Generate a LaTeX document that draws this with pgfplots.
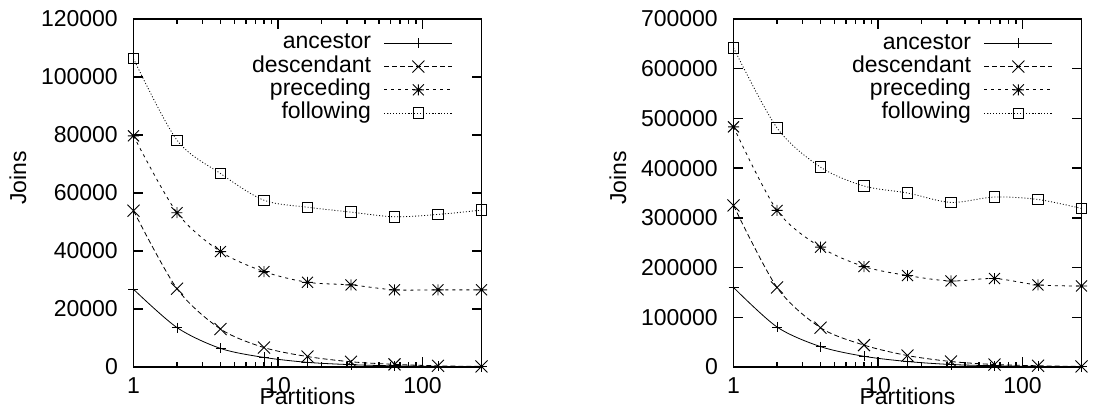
\documentclass[border=0pt]{standalone}
\usepackage{fontspec}
\setmainfont{Liberation Sans}
\usepackage{pgfplots}
\pgfplotsset{compat=1.18}
\pgfdeclareplotmark{gpx}{%
 \pgfpathmoveto{\pgfqpoint{-\pgfplotmarksize}{-\pgfplotmarksize}}%
 \pgfpathlineto{\pgfqpoint{\pgfplotmarksize}{\pgfplotmarksize}}%
 \pgfpathmoveto{\pgfqpoint{-\pgfplotmarksize}{\pgfplotmarksize}}%
 \pgfpathlineto{\pgfqpoint{\pgfplotmarksize}{-\pgfplotmarksize}}%
 \pgfusepathqstroke}
\pgfdeclareplotmark{gpstar}{%
 \pgfpathmoveto{\pgfqpoint{-\pgfplotmarksize}{-\pgfplotmarksize}}%
 \pgfpathlineto{\pgfqpoint{\pgfplotmarksize}{\pgfplotmarksize}}%
 \pgfpathmoveto{\pgfqpoint{-\pgfplotmarksize}{\pgfplotmarksize}}%
 \pgfpathlineto{\pgfqpoint{\pgfplotmarksize}{-\pgfplotmarksize}}%
 \pgfpathmoveto{\pgfqpoint{-\pgfplotmarksize}{0pt}}%
 \pgfpathlineto{\pgfqpoint{\pgfplotmarksize}{0pt}}%
 \pgfpathmoveto{\pgfqpoint{0pt}{-\pgfplotmarksize}}%
 \pgfpathlineto{\pgfqpoint{0pt}{\pgfplotmarksize}}%
 \pgfusepathqstroke}
\pgfplotstableread{
x anc desc prec foll
1 26800 53900 79700 106300
2 13600 27000 53200 78200
4 6400 13100 39800 66700
8 3300 6700 32900 57500
16 1600 3600 29200 55100
32 800 1800 28300 53400
64 400 900 26600 51800
128 200 400 26600 52600
256 100 200 26600 54100
}\lefttab
\pgfplotstableread{
x anc desc prec foll
1 160000 325000 483000 642000
2 80500 160000 315000 481000
4 41000 79000 241000 402000
8 21500 44000 202000 364000
16 11000 23000 184000 350000
32 5000 11000 173000 331000
64 2500 5000 178000 342000
128 1200 2500 165000 337000
256 600 1200 163000 319000
}\righttab
\newcommand\gpfont{\fontsize{23}{27}\selectfont}
\pgfplotsset{gp/.style={
  scale only axis, width=348pt, height=348pt,
  xmin=1, xmax=256, xtick={1,10,100}, xticklabels={1,10,100},
  ymin=0, clip=false,
  font=\gpfont,
  axis line style={line width=1.6pt},
  major tick length=10pt, minor tick length=5pt,
  every tick/.style={black, line width=1.4pt},
  scaled y ticks=false,
  xticklabel style={anchor=base, yshift=-27pt, font=\gpfont},
  yticklabel style={anchor=east, inner sep=0pt, xshift=-15.5pt, font=\gpfont},
  xlabel={Partitions}, ylabel={Joins},
  xlabel style={at={(axis description cs:0.5,0)}, anchor=base, yshift=-38pt, font=\gpfont},
  ylabel style={at={(axis description cs:-0.3319,0.5431)}, anchor=center, font=\gpfont},
  legend plot pos=right,
  legend cell align=right,
  legend style={draw=none, fill=none, inner sep=0pt, outer sep=0pt,
    at={(axis description cs:1,1)}, anchor=north east, xshift=-28.7pt, yshift=-14pt,
    font=\gpfont, nodes={inner sep=0pt, text height=16pt, text depth=4.5pt},
    column sep=13pt, row sep=2.8pt},
  legend image code/.code={\draw[mark repeat=2,mark phase=2,##1] plot coordinates {(0pt,0pt) (34pt,0pt) (68pt,0pt)};},
}}
\pgfplotsset{every axis plot/.append style={black, line width=0.8pt, mark options={solid, line width=0.9pt}}}
\begin{document}
\begin{tikzpicture}
\useasboundingbox (0pt,0pt) rectangle (1093pt,414pt);
\begin{semilogxaxis}[gp, at={(133.5pt,47pt)}, anchor=south west, ymax=120000,
  ytick={0,20000,40000,60000,80000,100000,120000},
  yticklabels={0,20000,40000,60000,80000,100000,120000}]
\addplot[smooth, mark=+, mark size=5pt] table[x=x, y=anc] {\lefttab};
\addlegendentry{ancestor}
\addplot[smooth, dash pattern=on 5pt off 3pt, mark=gpx, mark size=6pt] table[x=x, y=desc] {\lefttab};
\addlegendentry{descendant}
\addplot[smooth, dash pattern=on 3pt off 4pt, mark=gpstar, mark size=5.5pt] table[x=x, y=prec] {\lefttab};
\addlegendentry{preceding}
\addplot[smooth, dash pattern=on 1pt off 2pt, mark=square, mark size=5.2pt] table[x=x, y=foll] {\lefttab};
\addlegendentry{following}
\end{semilogxaxis}
\begin{semilogxaxis}[gp, at={(733.5pt,47pt)}, anchor=south west, ymax=700000,
  ytick={0,100000,200000,300000,400000,500000,600000,700000},
  yticklabels={0,100000,200000,300000,400000,500000,600000,700000}]
\addplot[smooth, mark=+, mark size=5pt] table[x=x, y=anc] {\righttab};
\addlegendentry{ancestor}
\addplot[smooth, dash pattern=on 5pt off 3pt, mark=gpx, mark size=6pt] table[x=x, y=desc] {\righttab};
\addlegendentry{descendant}
\addplot[smooth, dash pattern=on 3pt off 4pt, mark=gpstar, mark size=5.5pt] table[x=x, y=prec] {\righttab};
\addlegendentry{preceding}
\addplot[smooth, dash pattern=on 1pt off 2pt, mark=square, mark size=5.2pt] table[x=x, y=foll] {\righttab};
\addlegendentry{following}
\end{semilogxaxis}
\end{tikzpicture}
\end{document}
